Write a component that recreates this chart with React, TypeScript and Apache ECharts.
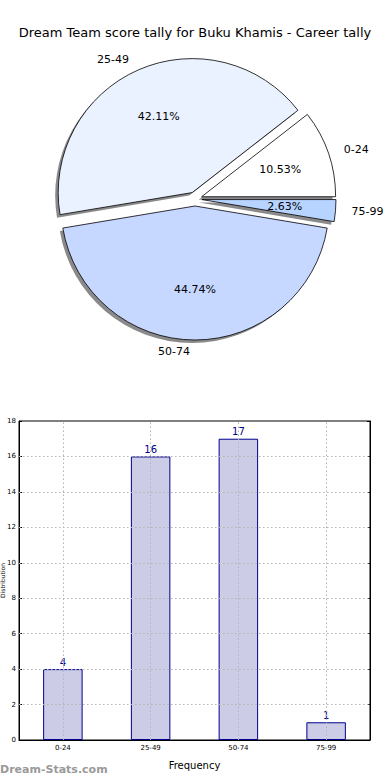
import React, { useEffect, useRef } from "react";
import * as echarts from "echarts";

const titleText = "Dream Team score tally for Buku Khamis - Career tally";
const categories = ["0-24", "25-49", "50-74", "75-99"];
const tallies = [4, 16, 17, 1];
const sliceColors = ["#ffffff", "#eaf1ff", "#c6d8ff", "#b6d4ff"];
const yTicks = [2, 4, 6, 8, 10, 12, 14, 16];
const yAxisName = "Distribution";
const xAxisName = "Frequency";
const watermark = "Dream-Stats.com";

const FONT = "DejaVu Sans";

export default function App() {
  const ref = useRef<HTMLDivElement>(null);
  useEffect(() => {
    if (!ref.current) return;
    const chart = echarts.init(ref.current, null, { renderer: "svg" });
    const R = 134;
    const cx = 195;
    const cy = 199;
    const total = tallies.reduce((a, b) => a + b, 0);
    const pieData = categories.map((c, i) => ({
      name: c,
      value: tallies[i],
      selected: true,
      itemStyle: { color: sliceColors[i] },
    }));
    const gridLine = { color: "#b4b4b4", type: [1.5, 2.5] as any, width: 1 };
    const option: any = {
      animation: false,
      backgroundColor: "#ffffff",
      title: {
        text: titleText,
        left: "center",
        top: 21,
        textStyle: { fontFamily: FONT, fontSize: 13, fontWeight: "normal", color: "#000" },
      },
      grid: {
        left: 19,
        right: 20,
        top: 421,
        bottom: 40,
        outerBoundsMode: "none",
        containLabel: false,
        show: true,
        borderColor: "#000",
        borderWidth: 1,
        backgroundColor: "transparent",
      },
      xAxis: {
        type: "category",
        data: categories,
        name: xAxisName,
        nameLocation: "middle",
        nameGap: 20,
        nameMoveOverlap: false,
        nameTextStyle: { fontFamily: FONT, fontSize: 10, color: "#000" },
        axisLine: { show: true, lineStyle: { color: "#000" } },
        axisTick: { show: true, alignWithLabel: true, inside: true, length: 3, lineStyle: { color: "#000" } },
        axisLabel: { fontFamily: FONT, fontSize: 7, color: "#000", margin: 4 },
        splitLine: { show: false },
      },
      yAxis: [
        {
          type: "value",
          min: 0,
          max: 18,
          interval: 2,
          name: yAxisName,
          nameLocation: "middle",
          nameGap: 14,
          nameMoveOverlap: false,
          nameTextStyle: { fontFamily: FONT, fontSize: 6, color: "#000" },
          axisLine: { show: true, lineStyle: { color: "#000" } },
          axisTick: { show: true, inside: true, length: 3, lineStyle: { color: "#000" } },
          axisLabel: { fontFamily: FONT, fontSize: 7, color: "#000", margin: 3 },
          splitLine: { show: false },
        },
        {
          type: "value",
          min: 0,
          max: 18,
          interval: 2,
          position: "right",
          axisLine: { show: true, lineStyle: { color: "#000" } },
          axisTick: { show: true, inside: true, length: 3, lineStyle: { color: "#000" } },
          axisLabel: { show: false },
          splitLine: { show: false },
        },
      ],
      graphic: [
        {
          type: "text",
          left: 0,
          top: 764,
          style: {
            text: watermark,
            fill: "#9a9a9a",
            font: `bold 11px ${FONT}`,
          },
        },
      ],
      series: [
        {
          name: "shadow",
          type: "pie",
          silent: true,
          center: [cx - 3, cy + 3],
          radius: R,
          startAngle: 0,
          clockwise: false,
          selectedMode: "multiple",
          selectedOffset: 7,
          avoidLabelOverlap: false,
          label: { show: false },
          labelLine: { show: false },
          itemStyle: { color: "#8a8a8a", borderWidth: 0 },
          emphasis: { disabled: true },
          z: 1,
          data: categories.map((c, i) => ({ name: c, value: tallies[i], selected: true })),
        },
        {
          name: "slices",
          type: "pie",
          center: [cx, cy],
          radius: R,
          startAngle: 0,
          clockwise: false,
          selectedMode: "multiple",
          selectedOffset: 7,
          avoidLabelOverlap: false,
          itemStyle: { borderColor: "#000", borderWidth: 0.8 },
          emphasis: { disabled: true },
          label: {
            show: true,
            position: "outside",
            formatter: "{b}",
            fontFamily: FONT,
            fontSize: 11,
            color: "#000",
            distanceToLabelLine: 5,
          },
          labelLine: { show: false, length: 11, length2: 0 },
          z: 2,
          data: pieData,
        },
        {
          name: "pct",
          type: "pie",
          silent: true,
          center: [cx, cy],
          radius: [R * 0.3, R],
          startAngle: 0,
          clockwise: false,
          avoidLabelOverlap: false,
          itemStyle: { color: "rgba(0,0,0,0)", borderWidth: 0 },
          emphasis: { disabled: true },
          label: {
            show: true,
            position: "inside",
            formatter: (p: any) => ((p.value / total) * 100).toFixed(2) + "%",
            fontFamily: FONT,
            fontSize: 11,
            color: "#000",
          },
          labelLine: { show: false },
          z: 3,
          data: categories.map((c, i) => ({ name: c, value: tallies[i] })),
        },
        {
          name: "tally",
          type: "bar",
          data: tallies,
          barWidth: "45%",
          itemStyle: { color: "#cccce6", borderColor: "#00008b", borderWidth: 1 },
          label: {
            show: true,
            position: "top",
            distance: 2,
            fontFamily: FONT,
            fontSize: 10,
            color: "#00008b",
          },
          emphasis: { disabled: true },
          markLine: {
            silent: true,
            symbol: ["none", "none"],
            label: { show: false },
            lineStyle: gridLine,
            emphasis: { disabled: true },
            data: [
              ...categories.map((c) => ({ xAxis: c })),
              ...yTicks.map((v) => ({ yAxis: v })),
            ],
          },
        },
      ],
    };
    chart.setOption(option);
    return () => chart.dispose();
  }, []);
  return (
    <div
      ref={ref}
      style={{ position: "fixed", left: 0, top: 0, width: 390, height: 780 }}
    />
  );
}
